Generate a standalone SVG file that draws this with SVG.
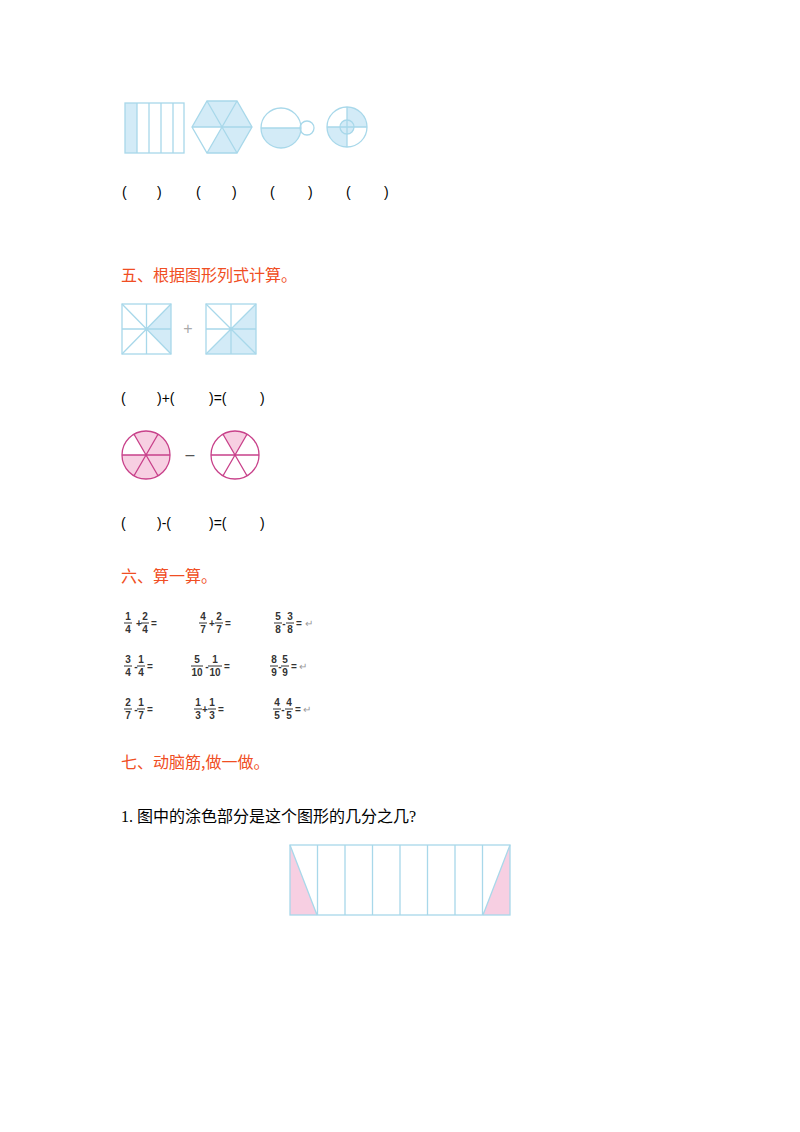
<svg xmlns="http://www.w3.org/2000/svg" width="800" height="1132" viewBox="0 0 800 1132">
<style>
.b{fill:none;stroke:#a8d8ea;stroke-width:1.3}
.bs{fill:#d3ebf7}
.p{fill:none;stroke:#c8418a;stroke-width:1.3}
.ps{fill:#f7cfe2}
.t{font-family:"Liberation Sans",sans-serif;font-size:14px;fill:#000}
.h{font-family:"Noto Sans CJK SC",sans-serif;font-size:16px;fill:#f04e23}
.f{font-family:"Liberation Sans",sans-serif;font-size:10px;font-weight:bold;fill:#333;text-anchor:middle}
.fl{stroke:#333;stroke-width:1}
.o{font-family:"Liberation Sans",sans-serif;font-size:10px;fill:#999}
</style>
<rect width="800" height="1132" fill="#fff"/>
<g id="rect5">
<rect x="125" y="103" width="12" height="50" class="bs"/>
<rect x="125" y="103" width="59" height="50" class="b"/>
<path d="M137 103V153M149 103V153M161 103V153M173 103V153" class="b"/>
</g>
<g id="hex">
<path d="M222 127L207 101L237 101ZM222 127L237 101L252 127ZM222 127L252 127L237 153ZM222 127L237 153L207 153ZM222 127L192 127L207 101Z" class="bs"/>
<path d="M192 127L207 101L237 101L252 127L237 153L207 153Z M192 127H252 M207 101L237 153 M237 101L207 153" class="b"/>
</g>
<g id="circ2">
<path d="M261 128A20 20 0 0 0 301 128Z" class="bs"/>
<circle cx="281" cy="128" r="20" class="b"/>
<path d="M261 128H301" class="b"/>
<circle cx="307" cy="128" r="7" class="b" fill="#fff"/>
</g>
<g id="ring">
<path d="M347 107A20 20 0 0 1 367 127H347Z M347 147A20 20 0 0 1 327 127H347Z" class="bs"/>
<circle cx="347" cy="127" r="7" class="bs"/>
<circle cx="347" cy="127" r="20" class="b"/>
<circle cx="347" cy="127" r="7" class="b"/>
<path d="M327 127H367M347 107V147" class="b"/>
</g>
<g id="parens1" class="t">
<text x="122" y="197">(</text><text x="157" y="197">)</text>
<text x="196" y="197">(</text><text x="232" y="197">)</text>
<text x="270" y="197">(</text><text x="308" y="197">)</text>
<text x="346" y="197">(</text><text x="384" y="197">)</text>
</g>
<text class="h" x="121" y="281">五、根据图形列式计算。</text>
<g id="sq1">
<path d="M146.5 329L171 304V329Z M146.5 329L171 329V354Z" class="bs"/>
<rect x="122" y="304" width="49" height="50" class="b"/>
<path d="M146.5 304V354M122 329H171M122 304L171 354M171 304L122 354" class="b"/>
</g>
<text x="188" y="334" font-family="Liberation Sans,sans-serif" font-size="16" fill="#aaa" text-anchor="middle">+</text>
<g id="sq2">
<path d="M231 329L256 304V329Z M231 329L256 329V354Z M231 329L256 354H231Z M231 329L231 354H206Z" class="bs"/>
<rect x="206" y="304" width="50" height="50" class="b"/>
<path d="M231 304V354M206 329H256M206 304L256 354M256 304L206 354" class="b"/>
</g>
<g id="eq1" class="t">
<text x="121" y="403">(</text><text x="157" y="403">)+(</text><text x="209" y="403">)=(</text><text x="260" y="403">)</text>
</g>
<g id="pc1">
<path d="M146 455L134 434.2A24 24 0 0 1 158 434.2Z M146 455L158 434.2A24 24 0 0 1 170 455Z M146 455L170 455A24 24 0 0 1 158 475.8Z M146 455L158 475.8A24 24 0 0 1 134 475.8Z M146 455L134 475.8A24 24 0 0 1 122 455Z" class="ps"/>
<circle cx="146" cy="455" r="24" class="p"/>
<path d="M122 455H170M134 434.2L158 475.8M158 434.2L134 475.8" class="p"/>
</g>
<text x="190" y="460" font-family="Liberation Sans,sans-serif" font-size="16" fill="#555" text-anchor="middle">–</text>
<g id="pc2">
<path d="M235 455L223 434.2A24 24 0 0 1 247 434.2Z" class="ps"/>
<circle cx="235" cy="455" r="24" class="p"/>
<path d="M211 455H259M223 434.2L247 475.8M247 434.2L223 475.8" class="p"/>
</g>
<g id="eq2" class="t">
<text x="121" y="528">(</text><text x="157" y="528">)-(</text><text x="209" y="528">)=(</text><text x="260" y="528">)</text>
</g>
<text class="h" x="121" y="582">六、算一算。</text>
<g id="fracs">
<g class="f">
<text x="128" y="620">1</text><text x="128" y="633">4</text><text x="139" y="627">+</text><text x="145" y="620">2</text><text x="145" y="633">4</text><text x="154" y="627">=</text>
<text x="203" y="620">4</text><text x="203" y="633">7</text><text x="212" y="627">+</text><text x="219" y="620">2</text><text x="219" y="633">7</text><text x="228" y="627">=</text>
<text x="278" y="620">5</text><text x="278" y="633">8</text><text x="284" y="627">-</text><text x="290" y="620">3</text><text x="290" y="633">8</text><text x="299" y="627">=</text>
<text x="128" y="663">3</text><text x="128" y="676">4</text><text x="136" y="670">-</text><text x="141" y="663">1</text><text x="141" y="676">4</text><text x="150" y="670">=</text>
<text x="197" y="663">5</text><text x="197" y="676">10</text><text x="207" y="670">-</text><text x="215" y="663">1</text><text x="215" y="676">10</text><text x="227" y="670">=</text>
<text x="274" y="663">8</text><text x="274" y="676">9</text><text x="280" y="670">-</text><text x="285" y="663">5</text><text x="285" y="676">9</text><text x="294" y="670">=</text>
<text x="128" y="706">2</text><text x="128" y="719">7</text><text x="136" y="713">-</text><text x="141" y="706">1</text><text x="141" y="719">7</text><text x="150" y="713">=</text>
<text x="198" y="706">1</text><text x="198" y="719">3</text><text x="205" y="713">+</text><text x="212" y="706">1</text><text x="212" y="719">3</text><text x="221" y="713">=</text>
<text x="277" y="706">4</text><text x="277" y="719">5</text><text x="283" y="713">-</text><text x="289" y="706">4</text><text x="289" y="719">5</text><text x="298" y="713">=</text>
</g>
<path class="fl" d="M124 623H132M141 623H149M199 623H207M215 623H223M274 623H282M286 623H294M124 666H132M137 666H145M191 666H203M208 666H222M270 666H278M281 666H289M124 709H132M137 709H145M194 709H202M208 709H216M273 709H281M285 709H293"/>
<text class="o" x="305" y="627">↵</text><text class="o" x="299" y="670">↵</text><text class="o" x="303" y="713">↵</text>
</g>
<text class="h" x="121" y="768">七、动脑筋,做一做。</text>
<text x="121" y="822" font-family="'Liberation Serif','Noto Sans CJK SC',serif" font-size="16" fill="#000">1. 图中的涂色部分是这个图形的几分之几?</text>
<g id="strip">
<path d="M290 845L317 915H290Z M510 845L483 915H510Z" class="ps"/>
<rect x="290" y="845" width="220" height="70" class="b"/>
<path d="M317.5 845V915M345 845V915M372.5 845V915M400 845V915M427.5 845V915M455 845V915M482.5 845V915M290 845L317 915M510 845L483 915" class="b"/>
</g>
</svg>
